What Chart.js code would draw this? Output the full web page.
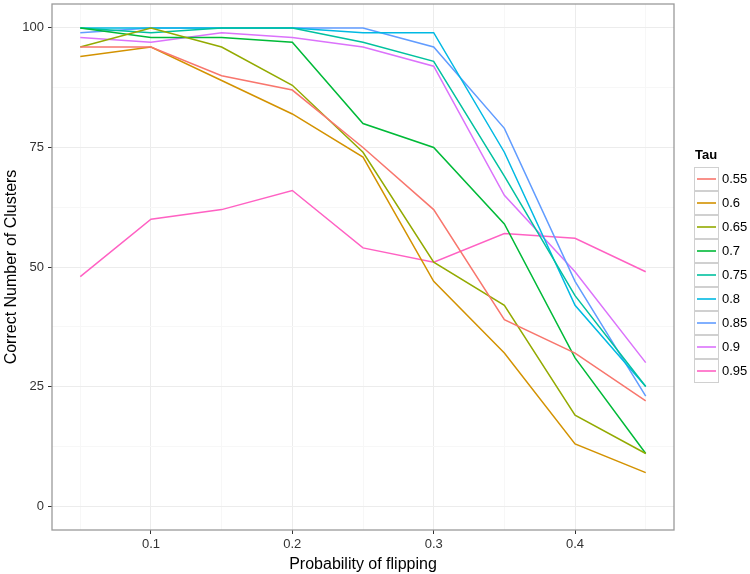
<!DOCTYPE html>
<html>
<head>
<meta charset="utf-8">
<script src="https://cdn.jsdelivr.net/npm/chart.js@4"></script>
<style>
  html, body { margin: 0; padding: 0; background: #fff; }
  #wrap { width: 750px; height: 574px; position: relative; }
</style>
</head>
<body>
<div id="wrap"><canvas id="c" width="750" height="574"></canvas></div>
<script>
// ---- data ----
const flipProb = [0.05, 0.1, 0.15, 0.2, 0.25, 0.3, 0.35, 0.4, 0.45];
const tauLabels = ['0.55', '0.6', '0.65', '0.7', '0.75', '0.8', '0.85', '0.9', '0.95'];
const tau055 = [96, 96, 90, 87, 75, 62, 39, 32, 22];
const tau060 = [94, 96, 89, 82, 73, 47, 32, 13, 7];
const tau065 = [96, 100, 96, 88, 74, 51, 42, 19, 11];
const tau070 = [100, 98, 98, 97, 80, 75, 59, 31, 11];
const tau075 = [100, 99, 100, 100, 97, 93, 69, 44, 25];
const tau080 = [100, 100, 100, 100, 99, 99, 74, 42, 25];
const tau085 = [99, 100, 100, 100, 100, 96, 79, 47, 23];
const tau090 = [98, 97, 99, 98, 96, 92, 65, 49, 30];
const tau095 = [48, 60, 62, 66, 54, 51, 57, 56, 49];
const xMajorTicks = [0.1, 0.2, 0.3, 0.4];
const xMinorTicks = [0.05, 0.15, 0.25, 0.35, 0.45];
const yMajorTicks = [0, 25, 50, 75, 100];
const yMinorTicks = [12.5, 37.5, 62.5, 87.5];
const xTitle = 'Probability of flipping';
const yTitle = 'Correct Number of Clusters';
const legendTitle = 'Tau';

const seriesValues = [tau055, tau060, tau065, tau070, tau075, tau080, tau085, tau090, tau095];
const colors = ['#F8766D', '#D39200', '#93AA00', '#00BA38', '#00C19F', '#00B9E3', '#619CFF', '#DB72FB', '#FF61C3'];

const FONT = "'Liberation Sans', Arial, sans-serif";
const isMajor = (arr, v) => arr.some(m => Math.abs(m - v) < 1e-9);

const datasets = seriesValues.map((vals, i) => ({
  label: tauLabels[i],
  data: flipProb.map((x, j) => ({ x: x, y: vals[j] })),
  borderColor: colors[i],
  backgroundColor: colors[i],
  borderWidth: 1.5,
  pointRadius: 0,
  tension: 0,
  fill: false
}));

const panelPlugin = {
  id: 'panel',
  afterDraw(chart) {
    const ctx = chart.ctx;
    const a = chart.chartArea;
    ctx.save();
    ctx.strokeStyle = '#9a9a9a';
    ctx.lineWidth = 1.3;
    ctx.strokeRect(a.left, a.top, a.right - a.left, a.bottom - a.top);
    // legend
    const lx = 694, ly = 167, kw = 25, kh = 24;
    ctx.fillStyle = '#000';
    ctx.font = "bold 13px " + FONT;
    ctx.textAlign = 'left';
    ctx.textBaseline = 'middle';
    ctx.fillText(legendTitle, lx + 1, ly - 12);
    chart.data.datasets.forEach((ds, i) => {
      const y = ly + i * kh;
      ctx.fillStyle = '#ffffff';
      ctx.fillRect(lx, y, kw, kh);
      ctx.strokeStyle = '#d0d0d0';
      ctx.lineWidth = 1;
      ctx.strokeRect(lx + 0.5, y + 0.5, kw - 1, kh - 1);
      ctx.strokeStyle = ds.borderColor;
      ctx.lineWidth = 1.6;
      ctx.beginPath();
      ctx.moveTo(lx + 3, y + kh / 2);
      ctx.lineTo(lx + kw - 3, y + kh / 2);
      ctx.stroke();
      ctx.fillStyle = '#000';
      ctx.font = "13px " + FONT;
      ctx.fillText(ds.label, lx + kw + 3, y + kh / 2 + 0.5);
    });
    ctx.restore();
  }
};

new Chart(document.getElementById('c'), {
  type: 'line',
  data: { datasets: datasets },
  options: {
    responsive: false,
    animation: false,
    layout: { padding: { left: 0, right: 76, top: 4, bottom: 0 } },
    plugins: { legend: { display: false }, tooltip: { enabled: false } },
    scales: {
      x: {
        type: 'linear',
        min: 0.03,
        max: 0.47,
        afterBuildTicks(scale) {
          scale.ticks = xMinorTicks.concat(xMajorTicks).sort((a, b) => a - b).map(v => ({ value: v }));
        },
        afterFit(scale) { scale.height = 44; scale.paddingLeft = 0; scale.paddingRight = 0; },
        ticks: {
          autoSkip: false,
          maxRotation: 0,
          padding: 3,
          color: '#333',
          font: { family: FONT, size: 13 },
          callback: (v) => isMajor(xMajorTicks, v) ? String(Math.round(v * 10) / 10) : ''
        },
        grid: {
          drawOnChartArea: true,
          color: (c) => isMajor(xMajorTicks, c.tick.value) ? '#ececec' : '#f7f7f7',
          tickColor: (c) => isMajor(xMajorTicks, c.tick.value) ? '#333' : 'rgba(0,0,0,0)',
          tickLength: 4,
          lineWidth: 1
        },
        border: { display: false },
        title: {
          display: true,
          text: xTitle,
          color: '#000',
          font: { family: FONT, size: 16 },
          padding: { top: 0, bottom: 0 }
        }
      },
      y: {
        type: 'linear',
        min: -5,
        max: 105,
        afterBuildTicks(scale) {
          scale.ticks = yMinorTicks.concat(yMajorTicks).sort((a, b) => a - b).map(v => ({ value: v }));
        },
        afterFit(scale) { scale.width = 52; scale.paddingTop = 0; scale.paddingBottom = 0; },
        ticks: {
          autoSkip: false,
          padding: 4,
          color: '#333',
          font: { family: FONT, size: 13 },
          callback: (v) => isMajor(yMajorTicks, v) ? String(v) : ''
        },
        grid: {
          drawOnChartArea: true,
          color: (c) => isMajor(yMajorTicks, c.tick.value) ? '#ececec' : '#f7f7f7',
          tickColor: (c) => isMajor(yMajorTicks, c.tick.value) ? '#333' : 'rgba(0,0,0,0)',
          tickLength: 4,
          lineWidth: 1
        },
        border: { display: false },
        title: {
          display: true,
          text: yTitle,
          color: '#000',
          font: { family: FONT, size: 16 },
          padding: { top: 2, bottom: 4 }
        }
      }
    }
  },
  plugins: [panelPlugin]
});
</script>
</body>
</html>
